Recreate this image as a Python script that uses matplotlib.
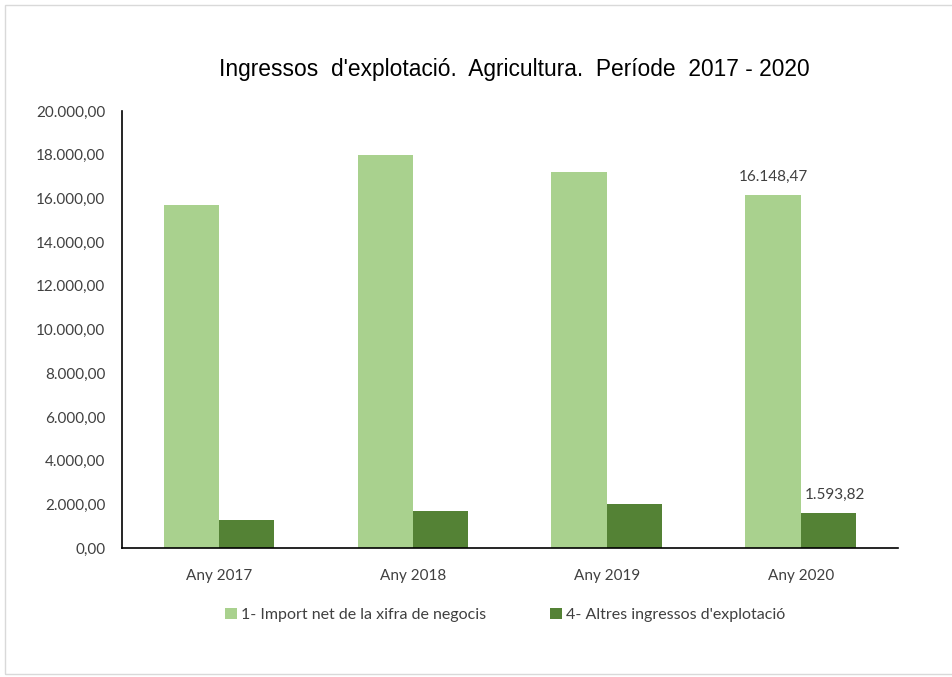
import matplotlib.pyplot as plt
import numpy as np
from matplotlib.patches import Rectangle

categories = ['Any 2017', 'Any 2018', 'Any 2019', 'Any 2020']
import_net = [15700, 18000, 17200, 16148.47]
altres = [1290, 1700, 2010, 1593.82]
series_names = ['1- Import net de la xifra de negocis', "4- Altres ingressos d'explotació"]
title = "Ingressos  d'explotació.  Agricultura.  Període  2017 - 2020"

light = '#A9D18E'
dark = '#548235'
txt = '#404040'


def fmt(v):
    s = f'{v:,.2f}'
    return s.replace(',', 'X').replace('.', ',').replace('X', '.')


fig = plt.figure(figsize=(9.52, 6.77), dpi=100)
fig.patches.append(Rectangle((0.005, 0.005), 1.2, 0.988, transform=fig.transFigure,
                             fill=False, edgecolor='#d9d9d9', linewidth=1))
ax = fig.add_axes([0.128, 0.1905, 0.815, 0.6455])

x = np.arange(len(categories))
w = 0.285
ax.bar(x - w / 2, import_net, w, color=light, label=series_names[0])
ax.bar(x + w / 2, altres, w, color=dark, label=series_names[1])

# only the last year is labelled
ax.annotate(fmt(import_net[-1]), (x[-1] - w / 2, import_net[-1]), xytext=(0, 8),
            textcoords='offset points', ha='center', va='bottom',
            fontsize=11, color=txt, family='Lato')
ax.annotate(fmt(altres[-1]), (x[-1] + w / 2, altres[-1]), xytext=(5, 8),
            textcoords='offset points', ha='center', va='bottom',
            fontsize=11, color=txt, family='Lato')

ax.set_xlim(-0.5, 3.5)
ax.set_ylim(0, 20000)
ax.set_yticks(np.arange(0, 20001, 2000))
ax.set_yticklabels([fmt(v) for v in np.arange(0, 20001, 2000)])
ax.set_xticks(x)
ax.set_xticklabels(categories)
for lab in ax.get_xticklabels() + ax.get_yticklabels():
    lab.set_family('Lato')
    lab.set_fontsize(11)
    lab.set_color(txt)
ax.tick_params(length=0)
ax.tick_params(axis='x', pad=15)
ax.tick_params(axis='y', pad=12)
for s in ['top', 'right']:
    ax.spines[s].set_visible(False)
for s in ['left', 'bottom']:
    ax.spines[s].set_color('black')
    ax.spines[s].set_linewidth(1.2)

fig.text(0.54, 0.898, title, ha='center', va='center', fontsize=16.4,
         family='Liberation Sans', color='black')

leg = fig.legend(loc='center', bbox_to_anchor=(0.531, 0.092), ncol=2, frameon=False,
                 handlelength=0.7, handleheight=0.7, handletextpad=0.3, columnspacing=4,
                 prop={'family': 'Lato', 'size': 11.5})
for t in leg.get_texts():
    t.set_color(txt)

fig.savefig('out.png', dpi=100)
